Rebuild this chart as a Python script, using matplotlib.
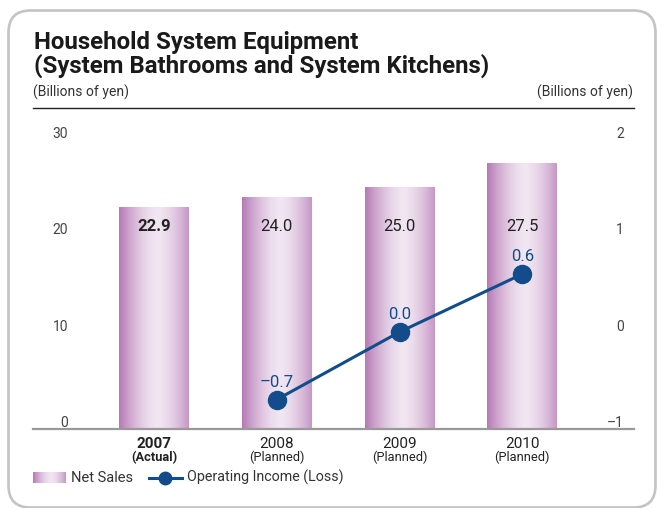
import numpy as np
import matplotlib
matplotlib.use("Agg")
import matplotlib.pyplot as plt
from matplotlib.patches import FancyBboxPatch
from matplotlib.lines import Line2D

plt.rcParams['font.family'] = ['Roboto', 'DejaVu Sans']

# ---- data ----
years = ["2007", "2008", "2009", "2010"]
statuses = ["(Actual)", "(Planned)", "(Planned)", "(Planned)"]
net_sales = [22.9, 24.0, 25.0, 27.5]
net_sales_labels = ["22.9", "24.0", "25.0", "27.5"]
op_years_idx = [1, 2, 3]
op_income = [-0.7, 0.0, 0.6]
op_income_labels = ["\u20130.7", "0.0", "0.6"]
left_ticks = [0, 10, 20, 30]
right_ticks = [-1, 0, 1, 2]
right_tick_labels = ["\u20131", "0", "1", "2"]

W, H = 657, 508
fig = plt.figure(figsize=(W / 100, H / 100), dpi=100)

# background rounded box
bg = fig.add_axes([0, 0, 1, 1], zorder=0)
bg.set_xlim(0, W)
bg.set_ylim(H, 0)
bg.axis('off')
bg.add_patch(FancyBboxPatch((8.5, 10.5), 647, 497, boxstyle="round,pad=0,rounding_size=22",
                            facecolor='white', edgecolor='#c4c4c4', linewidth=1.9))

# title
fig.text(34 / W, 1 - 49 / H, "Household System Equipment", fontsize=17.3, fontweight='bold',
         color='#1a1a1a', va='baseline', ha='left')
fig.text(34 / W, 1 - 73 / H, "(System Bathrooms and System Kitchens)", fontsize=17.3,
         fontweight='bold', color='#1a1a1a', va='baseline', ha='left')
fig.text(33 / W, 1 - 97 / H, "(Billions of yen)", fontsize=10, color='#333333', va='baseline', ha='left')
fig.text(633 / W, 1 - 97 / H, "(Billions of yen)", fontsize=10, color='#333333', va='baseline', ha='right')

# main axes
ax_l, ax_r, ax_t, ax_b = 33, 634, 107.5, 428.5
ax = fig.add_axes([ax_l / W, 1 - ax_b / H, (ax_r - ax_l) / W, (ax_b - ax_t) / H], zorder=1)
ax.patch.set_alpha(0)
x = np.arange(len(years))
ax.set_xlim(-0.986, 3.91)
ax.set_ylim(0, 33.26)

bar_w = 0.57
edge = np.array([181, 121, 181]) / 255
center = np.array([241, 230, 242]) / 255
t = np.linspace(0, 1, 200)
f = 1 - np.clip(np.abs(t - 0.55) / 0.55, 0, 1) ** 1.6
grad = edge[None, :] + (center - edge)[None, :] * f[:, None]
grad_img = grad[None, :, :]

bars = ax.bar(x, net_sales, width=bar_w, facecolor='none', edgecolor='none', zorder=2)
for b in bars:
    x0, y0 = b.get_x(), b.get_y()
    im = ax.imshow(grad_img, extent=[x0, x0 + b.get_width(), y0, y0 + b.get_height()],
                   aspect='auto', zorder=2, interpolation='bilinear')
    im.set_clip_path(b)

for i, lab in enumerate(net_sales_labels):
    ax.text(x[i], 20.9, lab, ha='center', va='center', fontsize=12,
            fontweight='bold' if i == 0 else 'normal', color='#222222', zorder=4)

# spines / ticks
for s in ['left', 'right']:
    ax.spines[s].set_visible(False)
ax.spines['top'].set_color('#222222')
ax.spines['top'].set_linewidth(1.0)
ax.spines['bottom'].set_color('#999999')
ax.spines['bottom'].set_linewidth(1.6)
ax.set_yticks([])
ax.set_xticks([])

for v in left_ticks:
    ax.annotate(str(v), xy=(-0.70, v), xytext=(0, 0.8), textcoords='offset points',
                ha='right', va='baseline', fontsize=10, color='#444444')

# x labels
for i in range(len(years)):
    wt = 'bold' if i == 0 else 'normal'
    ax.annotate(years[i], xy=(x[i], 0), xycoords='data', xytext=(0, -11.5), textcoords='offset points',
                ha='center', va='center', fontsize=11, fontweight=wt, color='#222222')
    ax.annotate(statuses[i], xy=(x[i], 0), xycoords='data', xytext=(0, -21), textcoords='offset points',
                ha='center', va='center', fontsize=9.3, fontweight=wt, color='#222222')

# right axis line
ax2 = ax.twinx()
ax2.set_ylim(-1, 2.326)
ax2.set_xlim(ax.get_xlim())
ax2.axis('off')
line_color = '#124c8a'
ax2.plot(op_years_idx, op_income, color=line_color, lw=2.2, marker='o', markersize=13,
         markerfacecolor=line_color, markeredgecolor=line_color, zorder=5)
for xi, v, lab in zip(op_years_idx, op_income, op_income_labels):
    ax2.annotate(lab, xy=(xi, v), xytext=(0, 12.5), textcoords='offset points', ha='center',
                 va='center', fontsize=12, color=line_color)
for v, lab in zip(right_ticks, right_tick_labels):
    ax2.annotate(lab, xy=(3.826, v), xytext=(0, 0.8), textcoords='offset points',
                 ha='right', va='baseline', fontsize=10, color='#444444')

# legend (manual)
lg = fig.add_axes([0, 0, 1, 1], zorder=3)
lg.axis('off')
lg.imshow(grad_img, extent=[33, 66, 483, 472], aspect='auto', interpolation='bilinear')
lg.set_xlim(0, W)
lg.set_ylim(H, 0)
lg.text(71, 477.5, "Net Sales", fontsize=10.5, color='#333333', va='center', ha='left')
lg.add_line(Line2D([149, 182], [477.5, 477.5], color=line_color, lw=2.2))
lg.add_line(Line2D([165], [477.5], marker='o', markersize=9, color=line_color))
lg.text(187, 477.5, "Operating Income (Loss)", fontsize=10.3, color='#333333', va='center', ha='left')

fig.savefig("out.png", dpi=100)
